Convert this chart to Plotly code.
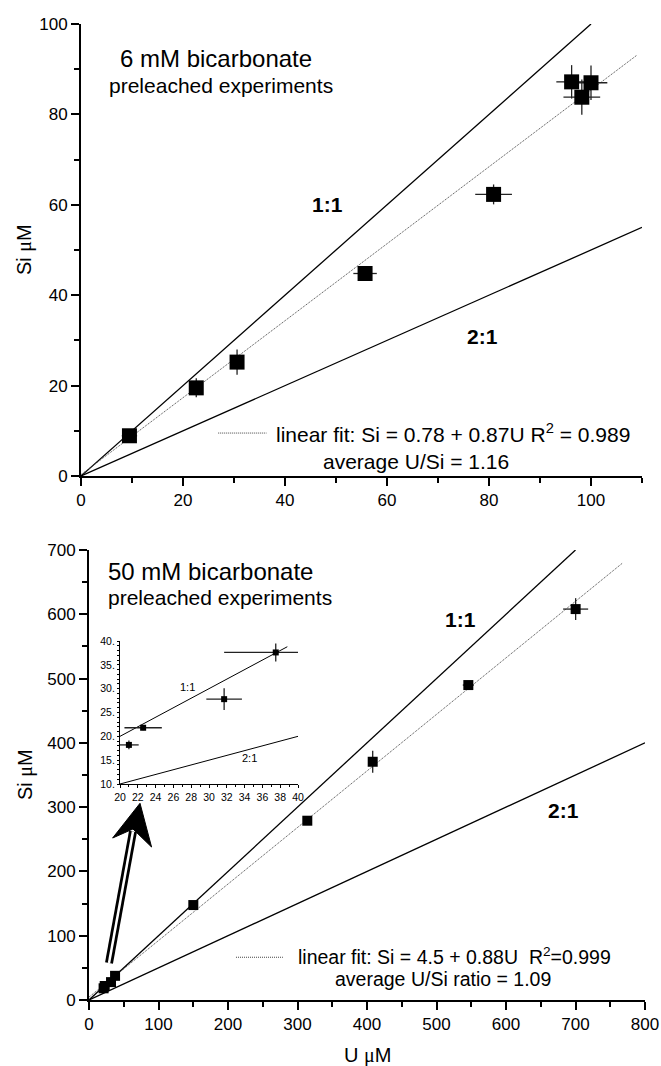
import plotly.graph_objects as go

# ---------------- data: 6 mM bicarbonate (top) ----------------
top_u = [9.5, 22.6, 30.6, 55.7, 80.9, 96.2, 100.0, 98.2]
top_si = [8.9, 19.5, 25.2, 44.8, 62.3, 87.2, 87.0, 83.8]
top_u_err = [1.5, 1.0, 1.0, 2.3, 3.6, 3.0, 3.2, 3.6]
top_si_err = [1.0, 2.1, 2.8, 1.0, 2.2, 3.7, 3.8, 3.9]

top_11_u = [0, 100]
top_11_si = [0, 100]
top_21_u = [0, 110]
top_21_si = [0, 55]
top_fit_u = [0, 109]
top_fit_si = [0.3, 93.1]

# ---------------- data: 50 mM bicarbonate (bottom) ----------------
bot_u = [21.0, 22.6, 31.7, 37.5, 150.1, 314.1, 408.2, 545.8, 700.2]
bot_si = [18.2, 21.8, 27.8, 37.6, 147.7, 278.9, 370.6, 489.9, 608.1]
bot_u_err = [1.1, 2.1, 2.0, 5.8, 4.0, 5.0, 5.0, 8.0, 18.0]
bot_si_err = [0.9, 0.5, 2.3, 1.9, 4.0, 5.0, 17.0, 6.0, 17.0]

bot_11_u = [0, 700]
bot_11_si = [0, 700]
bot_21_u = [0, 800]
bot_21_si = [0, 400]
bot_fit_u = [0, 768]
bot_fit_si = [4.5, 680]

# ---------------- inset (first four points of 50 mM) ----------------
ins_u = bot_u[:4]
ins_si = bot_si[:4]
ins_u_err = bot_u_err[:4]
ins_si_err = bot_si_err[:4]
ins_11_u = [20, 38.8]
ins_11_si = [20, 38.8]
ins_21_u = [20, 40]
ins_21_si = [10, 20]

# ---------------- tick labels ----------------
top_x_ticks = [0, 20, 40, 60, 80, 100]
top_y_ticks = [0, 20, 40, 60, 80, 100]
bot_x_ticks = [0, 100, 200, 300, 400, 500, 600, 700, 800]
bot_y_ticks = [0, 100, 200, 300, 400, 500, 600, 700]
ins_x_ticks = [20, 22, 24, 26, 28, 30, 32, 34, 36, 38, 40]
ins_y_ticks = [10, 15, 20, 25, 30, 35, 40]
ins_y_text = [f"{v}." for v in ins_y_ticks]

W, H = 661, 1066
FONT = "Liberation Sans, Arial, Helvetica, sans-serif"
MU = "<span style='font-family:Liberation Serif, Times New Roman, serif'>\u03bc</span>"

fig = go.Figure()

def add_line(x, y, xa, ya, color="black", width=1.3, dash="solid"):
    fig.add_trace(go.Scatter(x=x, y=y, mode="lines", xaxis=xa, yaxis=ya,
                             line=dict(color=color, width=width, dash=dash),
                             showlegend=False, hoverinfo="skip", cliponaxis=False))

def add_points(x, y, ex, ey, xa, ya, size):
    fig.add_trace(go.Scatter(
        x=x, y=y, mode="markers", xaxis=xa, yaxis=ya,
        marker=dict(symbol="square", size=size, color="black"),
        error_x=dict(type="data", array=ex, visible=True, color="#222", thickness=1.3, width=0),
        error_y=dict(type="data", array=ey, visible=True, color="#222", thickness=1.3, width=0),
        showlegend=False, cliponaxis=False))

FIT_DASH = "1px,1px"

# top
add_line(top_11_u, top_11_si, "x", "y")
add_line(top_21_u, top_21_si, "x", "y")
add_line(top_fit_u, top_fit_si, "x", "y", color="#444", width=1, dash=FIT_DASH)
add_points(top_u, top_si, top_u_err, top_si_err, "x", "y", 15)

# bottom
add_line(bot_11_u, bot_11_si, "x2", "y2")
add_line(bot_21_u, bot_21_si, "x2", "y2")
add_line(bot_fit_u, bot_fit_si, "x2", "y2", color="#444", width=1, dash=FIT_DASH)
add_points(bot_u, bot_si, bot_u_err, bot_si_err, "x2", "y2", 10)

# inset
add_line(ins_11_u, ins_11_si, "x3", "y3", width=1)
add_line(ins_21_u, ins_21_si, "x3", "y3", width=1)
add_points(ins_u, ins_si, ins_u_err, ins_si_err, "x3", "y3", 6)

def px_x(p):
    return p / W

def px_y(p):
    return 1 - p / H

axis_common = dict(showline=True, linecolor="black", linewidth=2, ticks="outside",
                   tickcolor="black", tickwidth=2, ticklen=8, showgrid=False,
                   zeroline=False, mirror=False, automargin=False,
                   tickfont=dict(family=FONT, size=17, color="black"))
minor_common = dict(ticks="outside", ticklen=5, tickwidth=1.5, tickcolor="black")
inset_common = dict(showline=True, linecolor="black", linewidth=1, ticks="outside", tickcolor="black",
                    tickwidth=1, showgrid=False, zeroline=False, automargin=False,
                    tickfont=dict(family=FONT, size=10.5, color="black"))
inset_minor = dict(dtick=1, ticks="outside", ticklen=2, tickwidth=1, tickcolor="black")

fig.update_layout(
    width=W, height=H, margin=dict(l=0, r=0, t=0, b=0, autoexpand=False),
    paper_bgcolor="white", plot_bgcolor="rgba(0,0,0,0)",
    showlegend=False, hovermode=False,
    xaxis=dict(domain=[px_x(81), px_x(642)], range=[0, 110], anchor="y",
               tickvals=top_x_ticks, minor=dict(dtick=10, **minor_common), **axis_common),
    yaxis=dict(domain=[px_y(476), px_y(24)], range=[0, 100], anchor="x",
               tickvals=top_y_ticks, minor=dict(dtick=10, **minor_common), **axis_common),
    xaxis2=dict(domain=[px_x(89), px_x(645)], range=[0, 800], anchor="y2",
                tickvals=bot_x_ticks, minor=dict(dtick=50, **minor_common), **axis_common),
    yaxis2=dict(domain=[px_y(1000), px_y(550)], range=[0, 700], anchor="x2",
                tickvals=bot_y_ticks, minor=dict(dtick=50, **minor_common), **axis_common),
    xaxis3=dict(domain=[px_x(120), px_x(298)], range=[20, 40], anchor="y3", ticklen=3,
                tickvals=ins_x_ticks, minor=inset_minor, **inset_common),
    yaxis3=dict(domain=[px_y(784), px_y(641)], range=[10, 40], anchor="x3", ticklen=2,
                tickvals=ins_y_ticks, ticktext=ins_y_text, minor=inset_minor, **inset_common),
)

def txt(text, x, y, xref, yref, size, bold=False, xanchor="center"):
    fig.add_annotation(text=f"<b>{text}</b>" if bold else text, x=x, y=y, xref=xref, yref=yref,
                       showarrow=False, xanchor=xanchor, yanchor="middle",
                       font=dict(family=FONT, size=size, color="black"))

# top texts
txt("6 mM bicarbonate", 26.5, 92.3, "x", "y", 24)
txt("preleached experiments", 27.5, 86.5, "x", "y", 21)
txt("1:1", 48.3, 60.0, "x", "y", 21, bold=True)
txt("2:1", 78.8, 30.8, "x", "y", 21, bold=True)
txt("linear fit: Si = 0.78 + 0.87U R<sup>2</sup> = 0.989", 37.8, 9.5, "x", "y", 21, xanchor="left")
txt("average U/Si = 1.16", 65.7, 3.1, "x", "y", 21)

# bottom texts
txt("50 mM bicarbonate", 175.5, 667, "x2", "y2", 24)
txt("preleached experiments", 187.8, 626.7, "x2", "y2", 21)
txt("1:1", 535, 592.5, "x2", "y2", 21, bold=True)
txt("2:1", 683, 295.5, "x2", "y2", 21, bold=True)
txt("linear fit: Si = 4.5 + 0.88U  R<sup>2</sup>=0.999", 297.8, 68.5, "x2", "y2", 19.5, xanchor="left")
txt("average U/Si ratio = 1.09", 509, 32.0, "x2", "y2", 19.5)

# inset texts
txt("1:1", 27.6, 30.4, "x3", "y3", 11)
txt("2:1", 34.6, 15.4, "x3", "y3", 11)

# axis titles
for ymid in (250, 775):
    fig.add_annotation(text=f"Si {MU}M", x=px_x(25), y=px_y(ymid), xref="paper", yref="paper",
                       xanchor="center", yanchor="middle",
                       showarrow=False, textangle=-90, font=dict(family=FONT, size=20, color="black"))
fig.add_annotation(text=f"U {MU}M", x=px_x(367), y=px_y(1055), xref="paper", yref="paper",
                   xanchor="center", yanchor="middle",
                   showarrow=False, font=dict(family=FONT, size=20, color="black"))

# legend samples (dotted line)
fig.add_shape(type="line", x0=26.9, x1=36.4, y0=9.5, y1=9.5, xref="x", yref="y",
              line=dict(color="#444", width=1, dash=FIT_DASH))
fig.add_shape(type="line", x0=211.5, x1=279, y0=66.5, y1=66.5, xref="x2", yref="y2",
              line=dict(color="#444", width=1, dash=FIT_DASH))

# arrow pointing to the inset (double-line shaft, notched filled head)
fig.add_shape(type="line", x0=28.8, y0=57.5, x1=63.3, y1=262, xref="x2", yref="y2",
              line=dict(color="black", width=8))
fig.add_shape(type="line", x0=28.8, y0=57.5, x1=63.3, y1=262, xref="x2", yref="y2",
              line=dict(color="white", width=2.5))
fig.add_shape(type="path", path="M 34 252 L 73.4 306 L 90 238 L 63.3 266 Z", xref="x2", yref="y2",
              fillcolor="black", line=dict(color="black", width=1))

fig.write_html("out.html", config={"displayModeBar": False},
               post_script="document.body.style.margin='0';document.body.style.overflow='hidden';")
